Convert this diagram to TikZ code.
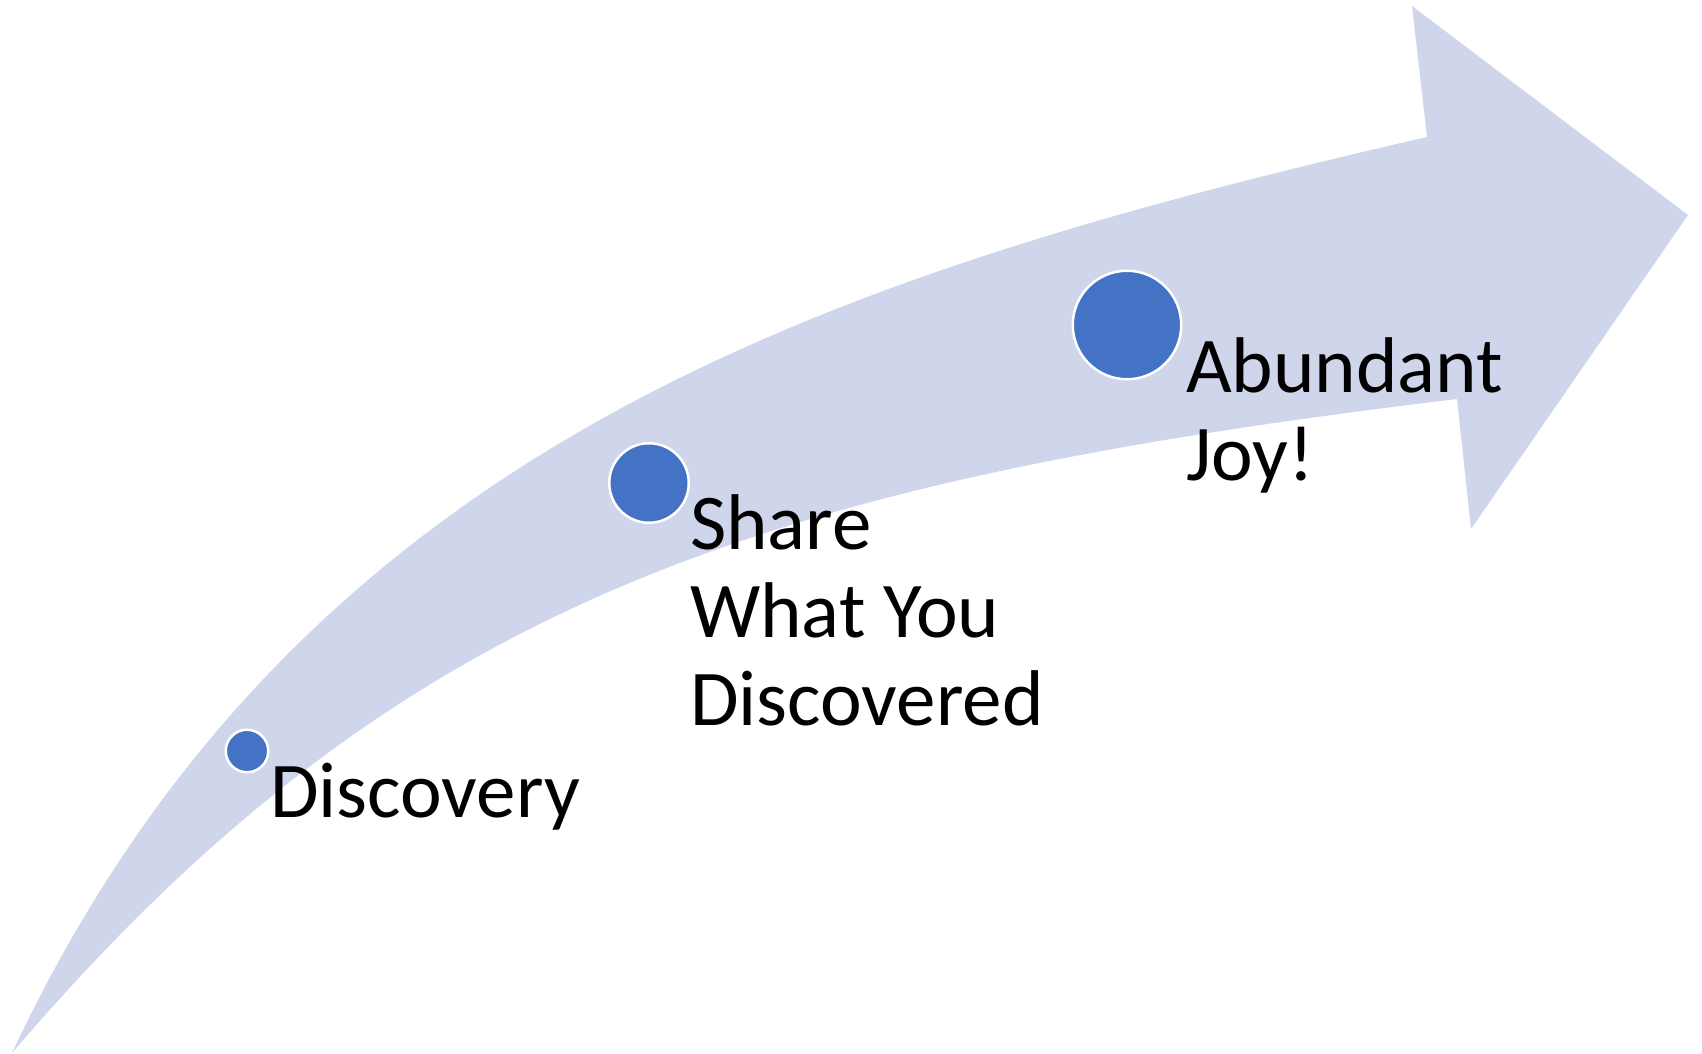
\documentclass[tikz,border=0pt]{standalone}
\usepackage{fontspec}
\setmainfont{Carlito}
\definecolor{band}{HTML}{CFD5EA}
\definecolor{dotblue}{HTML}{4472C4}
\begin{document}
\begin{tikzpicture}[x=1pt,y=-1pt,
  dotstyle/.style={circle,fill=dotblue,draw=white,line width=2.5pt,inner sep=0pt},
  lbl/.style={anchor=base west,inner sep=0pt,align=left,font=\fontsize{79}{88}\selectfont}]
\useasboundingbox (0,0) rectangle (1702,1054);
\fill[band] (12,1053) .. controls (297,446) and (827,275) .. (1427,137)
  -- (1412,6) -- (1688,215) -- (1471,529) -- (1457,399)
  .. controls (757,483) and (397,602.5) .. (12,1053) -- cycle;
\node[dotstyle,minimum size=42.5pt] (d1) at (247,751) {};
\node[dotstyle,minimum size=79.5pt] (d2) at (649,483) {};
\node[dotstyle,minimum size=108.5pt] (d3) at (1127,325) {};
\node[lbl] (t1) at (270,817) {Discovery};
\node[lbl] (t2) at (690,725) {Share\\What You\\Discovered};
\node[lbl] (t3) at (1186,480) {Abundant\\Joy!};
\end{tikzpicture}
\end{document}
